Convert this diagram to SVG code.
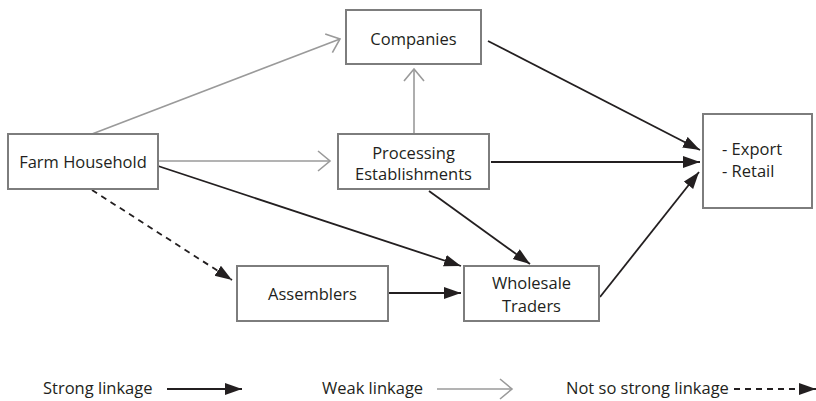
<svg xmlns="http://www.w3.org/2000/svg" width="816" height="401" viewBox="0 0 816 401">
  <style>
    .box { fill: #ffffff; stroke: #7d7d7d; stroke-width: 2; }
    .lbl { font-family: "Open Sans", "Liberation Sans", sans-serif; font-size: 16.5px; fill: #231f20; }
    .mid { text-anchor: middle; }
    .strong { stroke: #231f20; stroke-width: 1.8; fill: none; marker-end: url(#solidHead); }
    .weak { stroke: #9a9a9a; stroke-width: 1.6; fill: none; marker-end: url(#openHead); }
    .dashed { stroke: #231f20; stroke-width: 1.8; fill: none; stroke-dasharray: 6 5; marker-end: url(#solidHead); }
  </style>
  <defs>
    <marker id="solidHead" markerUnits="userSpaceOnUse" markerWidth="19" markerHeight="14" refX="17" refY="6" orient="auto">
      <path d="M0,0 L17,6 L0,12 z" fill="#231f20"/>
    </marker>
    <marker id="openHead" markerUnits="userSpaceOnUse" markerWidth="16" markerHeight="24" refX="13" refY="11" orient="auto">
      <path d="M1,1 L13,11 L1,21" fill="none" stroke="#9a9a9a" stroke-width="1.6"/>
    </marker>
  </defs>

  <rect width="816" height="401" fill="#ffffff"/>

  <!-- connectors -->
  <g id="connectors">
    <line class="weak" x1="92" y1="134" x2="340" y2="39"/>
    <line class="weak" x1="414" y1="134" x2="414" y2="69"/>
    <line class="weak" x1="158" y1="161" x2="330" y2="161"/>
    <line class="strong" x1="488" y1="41" x2="700" y2="150"/>
    <line class="strong" x1="491" y1="162" x2="700" y2="162"/>
    <line class="strong" x1="600" y1="297" x2="699" y2="172"/>
    <line class="strong" x1="158" y1="166" x2="461" y2="266"/>
    <line class="strong" x1="429" y1="191" x2="530" y2="264"/>
    <line class="strong" x1="389" y1="293" x2="461" y2="293"/>
    <line class="dashed" x1="92" y1="190" x2="232" y2="280"/>
  </g>

  <!-- nodes -->
  <g id="companies">
    <rect class="box" x="346" y="10" width="135" height="54"/>
    <text class="lbl mid" x="413.5" y="45">Companies</text>
  </g>
  <g id="farm-household">
    <rect class="box" x="8" y="134" width="150" height="55"/>
    <text class="lbl mid" x="83" y="168">Farm Household</text>
  </g>
  <g id="processing">
    <rect class="box" x="338" y="134" width="151" height="55"/>
    <text class="lbl mid" x="413.5" y="159">Processing</text>
    <text class="lbl mid" x="413.5" y="180">Establishments</text>
  </g>
  <g id="export-retail">
    <rect class="box" x="703" y="114" width="109" height="94"/>
    <text class="lbl" x="722" y="155">- Export</text>
    <text class="lbl" x="722" y="177">- Retail</text>
  </g>
  <g id="assemblers">
    <rect class="box" x="237" y="266" width="151" height="55"/>
    <text class="lbl mid" x="312.5" y="300">Assemblers</text>
  </g>
  <g id="wholesale">
    <rect class="box" x="464" y="266" width="135" height="55"/>
    <text class="lbl mid" x="531.5" y="289">Wholesale</text>
    <text class="lbl mid" x="531.5" y="312">Traders</text>
  </g>

  <!-- legend -->
  <g id="legend">
    <text class="lbl" x="43" y="394">Strong linkage</text>
    <line class="strong" x1="167" y1="389" x2="242" y2="389"/>
    <text class="lbl" x="322" y="394">Weak linkage</text>
    <line class="weak" x1="437" y1="389" x2="512" y2="389"/>
    <text class="lbl" x="566" y="394">Not so strong linkage</text>
    <line class="dashed" x1="734" y1="389" x2="816" y2="389"/>
  </g>
</svg>
